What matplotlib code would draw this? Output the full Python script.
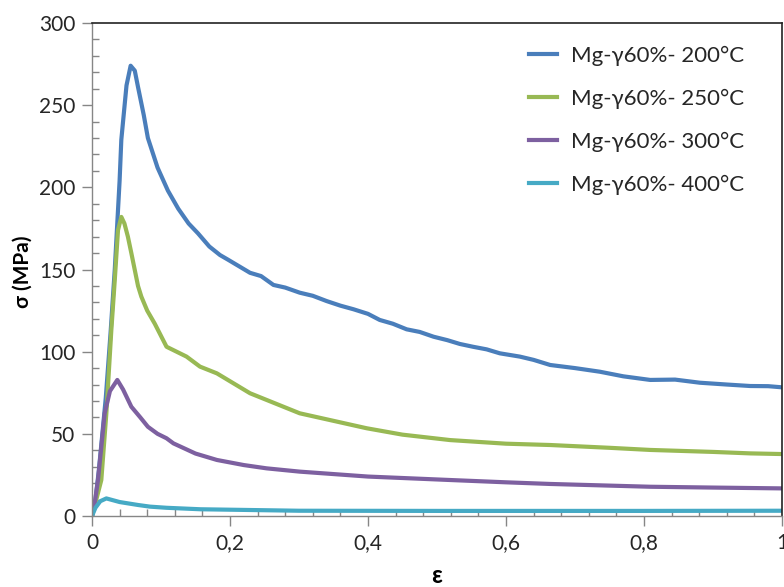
import matplotlib
matplotlib.use("Agg")
import matplotlib.pyplot as plt
from matplotlib.ticker import MultipleLocator

plt.rcParams['font.family'] = ['Lato', 'DejaVu Sans']

# ---- data ----
eps_200 = [0, 0.005, 0.010, 0.015, 0.020, 0.027, 0.033, 0.040, 0.0425, 0.050, 0.056,
           0.062, 0.0667, 0.075, 0.081, 0.095, 0.110, 0.125, 0.140, 0.1536, 0.170,
           0.1855, 0.197, 0.213, 0.229, 0.245, 0.263, 0.280, 0.301, 0.320, 0.340,
           0.360, 0.379, 0.400, 0.417, 0.436, 0.456, 0.475, 0.495, 0.515, 0.533,
           0.552, 0.572, 0.591, 0.620, 0.640, 0.664, 0.700, 0.736, 0.770, 0.809,
           0.845, 0.881, 0.920, 0.954, 0.980, 1.0]
sig_200 = [0, 10, 28, 50, 72, 112, 150, 204, 229, 262, 274,
           271, 261, 244, 230, 212, 198, 187, 178, 172, 164,
           158.8, 156, 152, 148, 146, 140.6, 139, 135.9, 134, 130.8,
           128, 125.8, 123, 119.3, 117, 113.6, 112, 109.1, 107, 104.7,
           103, 101.4, 99, 97, 95, 91.9, 90, 87.8, 85, 82.8,
           83, 81.1, 80, 79.1, 79, 78.3]

eps_250 = [0, 0.005, 0.0135, 0.0208, 0.028, 0.033, 0.0377, 0.0425, 0.047, 0.052,
           0.057, 0.0667, 0.0715, 0.080, 0.091, 0.108, 0.137, 0.1565, 0.181,
           0.229, 0.301, 0.398, 0.450, 0.519, 0.600, 0.664, 0.750, 0.809, 0.900,
           0.954, 1.0]
sig_250 = [0, 8, 21.9, 62.5, 113, 143.6, 174, 182, 178, 170,
           160, 140, 133.5, 125, 117, 103, 97, 90.9, 86.8,
           74.7, 62.5, 53.4, 49.5, 46.2, 44, 43.2, 41.5, 40.2, 39,
           38.1, 37.7]

eps_300 = [0, 0.004, 0.0087, 0.0184, 0.026, 0.0367, 0.045, 0.057, 0.070, 0.081,
           0.095, 0.108, 0.118, 0.150, 0.181, 0.220, 0.253, 0.301, 0.400, 0.519,
           0.600, 0.664, 0.809, 0.900, 1.0]
sig_300 = [0, 8, 21.9, 62.5, 76, 82.8, 77, 66.5, 60, 54.3,
           50, 47.3, 44.2, 38, 34.1, 31, 29, 27, 24, 21.9,
           20.5, 19.5, 17.8, 17.3, 16.8]

eps_400 = [0, 0.005, 0.012, 0.0208, 0.040, 0.0667, 0.084, 0.108, 0.157, 0.300,
           0.500, 0.800, 1.0]
sig_400 = [0, 5, 9, 10.7, 8.5, 6.7, 5.7, 5.0, 4.1, 3.2,
           3.1, 3.1, 3.2]

labels = ['Mg-\u03b360%- 200°C', 'Mg-\u03b360%- 250°C',
          'Mg-\u03b360%- 300°C', 'Mg-\u03b360%- 400°C']
colors = ['#4A7EBB', '#98B954', '#7D60A0', '#46AAC5']

x_ticks = [0, 0.2, 0.4, 0.6, 0.8, 1.0]
x_tick_labels = ['0', '0,2', '0,4', '0,6', '0,8', '1']

# ---- figure ----
fig = plt.figure(figsize=(7.84, 5.87), dpi=100)
ax = fig.add_axes([92/784, 1 - 516/587, (782 - 92)/784, (516 - 23)/587])

series = [(eps_200, sig_200), (eps_250, sig_250), (eps_300, sig_300), (eps_400, sig_400)]
for (x, y), lab, c in zip(series, labels, colors):
    ax.plot(x, y, color=c, lw=3.0, label=lab, solid_joinstyle='round')

ax.set_xlim(0, 1)
ax.set_ylim(0, 300)
ax.set_xticks(x_ticks)
ax.set_xticklabels(x_tick_labels)
ax.xaxis.set_minor_locator(MultipleLocator(0.04))
ax.yaxis.set_major_locator(MultipleLocator(50))
ax.yaxis.set_minor_locator(MultipleLocator(10))

tick_gray = '#868686'
ax.tick_params(which='major', direction='out', length=7, width=1, color=tick_gray,
               labelsize=15, labelcolor='#262626', pad=5)
ax.tick_params(which='minor', direction='in', length=5, width=1, color=tick_gray)

for s in ['left', 'bottom']:
    ax.spines[s].set_color(tick_gray)
    ax.spines[s].set_linewidth(1)
for s in ['top', 'right']:
    ax.spines[s].set_color('#222222')
    ax.spines[s].set_linewidth(1.2)

ax.set_ylabel('\u03c3 (MPa)', fontsize=15, fontweight='bold')
ax.yaxis.set_label_coords(-0.086, 0.495)
ax.set_xlabel('\u03b5', fontsize=17, fontweight='bold', labelpad=8)

leg = ax.legend(loc='upper left', bbox_to_anchor=(529/784, 1 - 46/587),
                bbox_transform=fig.transFigure, frameon=False, fontsize=16,
                handlelength=1.25, handletextpad=0.65, labelspacing=1.02,
                borderpad=0, borderaxespad=0)
for t in leg.get_texts():
    t.set_color('#262626')

fig.savefig('out.png', dpi=100)
